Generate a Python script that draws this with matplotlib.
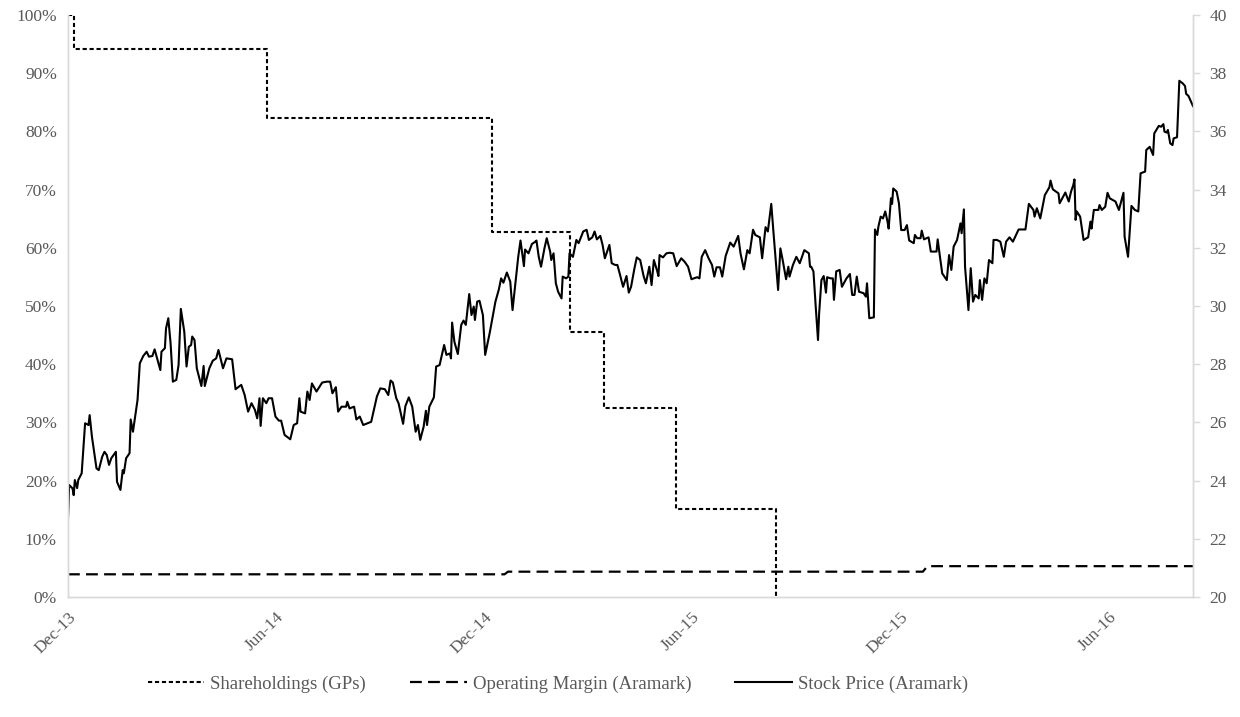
import matplotlib
matplotlib.use("Agg")
import matplotlib.pyplot as plt
from matplotlib.ticker import FuncFormatter, MultipleLocator
import pandas as pd

plt.rcParams['font.family'] = ['Liberation Serif', 'DejaVu Serif']
plt.rcParams['lines.scale_dashes'] = False

START = pd.Timestamp('2013-12-12')

# ---- Shareholdings (GPs), % ---- (days after START)
share_days = [0, 5, 175, 372, 440, 470, 533, 621]
share_vals = [100.0, 94.2, 82.3, 62.7, 45.5, 32.4, 15.1, 0.0]

# ---- Operating Margin (Aramark), % ----
margin_days = [0, 383, 386, 750, 754, 987]
margin_vals = [3.9, 3.9, 4.35, 4.35, 5.3, 5.3]

# ---- Stock Price (Aramark), USD ----
stock_days = [
    0, 1, 4, 5, 6, 8, 9, 12, 15, 18, 19, 21, 25, 27, 30, 32, 34, 36, 38, 42,
    43, 46, 48, 49, 51, 54, 55, 57, 61, 63, 66, 69, 71, 74, 76, 81, 82, 85, 86, 88,
    90, 92, 95, 97, 99, 102, 104, 106, 108, 109, 111, 113, 117, 119, 120, 124, 127, 130, 132, 136,
    139, 144, 147, 152, 155, 158, 161, 164, 166, 168, 169, 171, 174, 176, 179, 182, 185, 187, 190, 195,
    198, 201, 203, 204, 208, 210, 212, 214, 218, 223, 227, 230, 232, 235, 237, 240, 244, 245, 247, 251,
    253, 256, 259, 266, 271, 274, 278, 281, 283, 285, 288, 290, 294, 296, 299, 302, 305, 307, 309, 312,
    314, 315, 317, 321, 323, 326, 330, 332, 335, 336, 337, 339, 342, 345, 347, 349, 352, 354, 356, 357,
    359, 361, 364, 366, 370, 375, 378, 380, 382, 385, 388, 390, 393, 395, 397, 400, 401, 404, 407, 410,
    411, 413, 415, 418, 420, 423, 424, 426, 428, 430, 433, 434, 437, 439, 440, 443, 446, 448, 452, 455,
    457, 460, 462, 464, 467, 469, 471, 475, 477, 480, 482, 484, 487, 490, 492, 494, 497, 499, 502, 505,
    507, 510, 512, 514, 517, 518, 519, 522, 525, 528, 531, 534, 538, 541, 544, 547, 552, 554, 556, 559,
    562, 565, 567, 569, 572, 574, 577, 581, 584, 588, 590, 593, 596, 598, 601, 603, 607, 609, 612, 614,
    617, 619, 623, 625, 627, 630, 632, 633, 636, 639, 642, 646, 650, 651, 652, 654, 656, 658, 659, 661,
    663, 665, 666, 669, 671, 672, 674, 677, 679, 683, 686, 688, 690, 692, 694, 698, 700, 701, 703, 707,
    708, 710, 711, 713, 715, 717, 719, 720, 722, 723, 724, 727, 729, 731, 734, 736, 738, 742, 743, 745,
    748, 749, 751, 755, 757, 762, 763, 765, 767, 771, 773, 775, 777, 780, 783, 784, 786, 787, 790, 792,
    794, 796, 799, 800, 802, 804, 806, 808, 811, 812, 815, 818, 821, 823, 826, 829, 834, 840, 843, 847,
    848, 850, 853, 857, 861, 862, 864, 869, 870, 875, 878, 880, 882, 883, 884, 885, 888, 891, 895, 897,
    898, 900, 904, 905, 907, 910, 912, 914, 919, 922, 926, 927, 930, 933, 936, 939, 941, 945, 946, 949,
    952, 953, 957, 959, 961, 962, 964, 965, 967, 969, 970, 973, 975, 978, 980, 981, 983, 987,
]
stock_vals = [
    22.70, 23.85, 23.73, 23.50, 24.02, 23.74, 24.02, 24.25, 25.97, 25.91, 26.25, 25.51, 24.42, 24.36, 24.82, 24.99, 24.88, 24.54, 24.77, 24.99,
    23.96, 23.68, 24.36, 24.25, 24.77, 24.94, 26.10, 25.68, 26.77, 28.03, 28.28, 28.43, 28.26, 28.28, 28.51, 27.80, 28.43, 28.55, 29.23, 29.58,
    28.72, 27.40, 27.46, 27.97, 29.90, 29.12, 27.92, 28.60, 28.66, 28.95, 28.83, 27.86, 27.25, 27.94, 27.25, 27.86, 28.12, 28.20, 28.49, 27.86,
    28.20, 28.17, 27.14, 27.29, 26.94, 26.37, 26.66, 26.43, 26.14, 26.83, 25.88, 26.83, 26.66, 26.83, 26.83, 26.20, 26.06, 26.06, 25.57, 25.42,
    25.91, 25.97, 26.83, 26.37, 26.31, 27.06, 26.77, 27.34, 27.06, 27.37, 27.40, 27.40, 27.00, 27.21, 26.37, 26.54, 26.54, 26.71, 26.48, 26.54,
    26.10, 26.20, 25.91, 26.02, 26.89, 27.17, 27.14, 26.94, 27.44, 27.37, 26.83, 26.66, 25.95, 26.56, 26.86, 26.54, 25.68, 25.91, 25.40, 25.85,
    26.40, 25.91, 26.54, 26.86, 27.92, 27.97, 28.66, 28.32, 28.37, 28.20, 29.43, 28.77, 28.35, 29.35, 29.50, 29.35, 30.41, 29.69, 29.98, 29.52,
    30.15, 30.18, 29.69, 28.32, 29.08, 30.15, 30.57, 30.95, 30.80, 31.15, 30.84, 29.86, 30.95, 31.69, 32.25, 31.37, 31.94, 31.81, 32.13, 32.21,
    32.25, 31.69, 31.35, 31.98, 32.33, 31.87, 31.58, 31.81, 30.78, 30.49, 30.26, 31.01, 30.95, 31.01, 31.81, 31.69, 32.27, 32.16, 32.56, 32.62,
    32.27, 32.36, 32.56, 32.29, 32.41, 32.10, 31.64, 32.10, 31.47, 31.41, 31.41, 31.12, 30.66, 31.03, 30.46, 30.66, 31.30, 31.67, 31.58, 31.03,
    30.78, 31.35, 30.72, 31.58, 31.19, 31.03, 31.75, 31.67, 31.81, 31.83, 31.81, 31.37, 31.64, 31.52, 31.35, 30.92, 30.99, 30.95, 31.69, 31.92,
    31.64, 31.41, 31.01, 31.33, 31.33, 31.01, 31.72, 32.18, 32.04, 32.41, 31.81, 31.26, 31.92, 31.81, 32.62, 32.44, 32.36, 31.64, 32.71, 32.56,
    33.51, 32.50, 30.55, 31.98, 31.58, 30.92, 31.35, 31.01, 31.41, 31.69, 31.47, 31.92, 31.81, 31.35, 31.35, 31.19, 29.98, 28.83, 29.75, 30.89,
    31.03, 30.46, 30.99, 30.95, 30.95, 30.21, 31.19, 31.24, 30.66, 30.95, 31.10, 30.38, 30.38, 31.01, 30.49, 30.44, 30.32, 30.78, 29.58, 29.61,
    32.63, 32.44, 32.73, 33.07, 33.01, 33.25, 32.90, 32.66, 33.70, 33.51, 34.04, 33.93, 33.53, 32.61, 32.61, 32.78, 32.25, 32.16, 32.44, 32.33,
    32.33, 32.59, 32.29, 32.36, 31.87, 31.87, 32.29, 31.69, 31.12, 30.89, 31.75, 31.24, 32.04, 32.27, 32.84, 32.50, 33.32, 31.35, 29.86, 31.30,
    30.15, 30.38, 30.26, 30.89, 30.21, 30.95, 30.78, 31.58, 31.47, 32.27, 32.27, 32.21, 31.69, 32.21, 32.36, 32.21, 32.63, 32.63, 33.51, 33.30,
    33.07, 33.36, 33.01, 33.81, 34.08, 34.31, 34.01, 33.87, 33.53, 33.90, 33.59, 33.93, 34.16, 34.35, 32.96, 33.25, 33.07, 32.27, 32.36, 32.90,
    32.66, 33.30, 33.30, 33.47, 33.30, 33.41, 33.89, 33.70, 33.59, 33.30, 33.89, 32.38, 31.69, 33.44, 33.30, 33.25, 34.56, 34.62, 35.36, 35.47,
    35.19, 35.93, 36.19, 36.16, 36.25, 35.99, 35.96, 36.05, 35.59, 35.53, 35.76, 35.80, 37.74, 37.65, 37.56, 37.29, 37.22, 36.87,
]

x_tick_labels = ['Dec-13', 'Jun-14', 'Dec-14', 'Jun-15', 'Dec-15', 'Jun-16']
series_names = ['Shareholdings (GPs)', 'Operating Margin (Aramark)', 'Stock Price (Aramark)']


def to_dates(days):
    return START + pd.to_timedelta(days, unit='D')


TEXT = '#595959'
SPINE = '#d9d9d9'

fig = plt.figure(figsize=(12.4, 7.17), dpi=100)
ax = fig.add_axes([68 / 1240, 1 - 597 / 717, (1193 - 68) / 1240, (597 - 15) / 717])
ax2 = ax.twinx()

l1, = ax.plot(to_dates(share_days), share_vals, drawstyle='steps-post',
              color='black', lw=1.5, dashes=(3, 2), label=series_names[0])
l2, = ax.plot(to_dates(margin_days), margin_vals, color='black', lw=1.6,
              dashes=(8.5, 4.5), label=series_names[1])
l3, = ax2.plot(to_dates(stock_days), stock_vals, color='black', lw=1.5,
               label=series_names[2])

ax.set_xlim(to_dates([0])[0], to_dates([987])[0])
ax.set_ylim(0, 100)
ax2.set_ylim(20, 40)
ax.yaxis.set_major_locator(MultipleLocator(10))
ax.yaxis.set_major_formatter(FuncFormatter(lambda v, p: f'{v:.0f}%'))
ax2.yaxis.set_major_locator(MultipleLocator(2))

tick_dates = [START + pd.DateOffset(months=6 * i) for i in range(len(x_tick_labels))]
ax.set_xticks(tick_dates)
ax.set_xticklabels(x_tick_labels, rotation=45, ha='right', rotation_mode='anchor')

for a in (ax, ax2):
    for s in a.spines.values():
        s.set_color(SPINE)
        s.set_linewidth(1.0)
    a.spines['top'].set_visible(False)

ax.tick_params(axis='x', length=0, pad=9, labelsize=12.5, labelcolor=TEXT)
ax.tick_params(axis='y', length=0, pad=8, labelsize=12.5, labelcolor=TEXT)
ax2.tick_params(axis='y', length=5, width=1, color=SPINE, pad=7, labelsize=12.5, labelcolor=TEXT)

fig.legend(handles=[l1, l2, l3], loc='center', bbox_to_anchor=(0.45, 1 - 684 / 717),
           ncol=3, frameon=False, fontsize=13.5, handlelength=3.0, columnspacing=2.35,
           handletextpad=0.33, labelcolor=TEXT)

fig.savefig('out.png', dpi=100)
